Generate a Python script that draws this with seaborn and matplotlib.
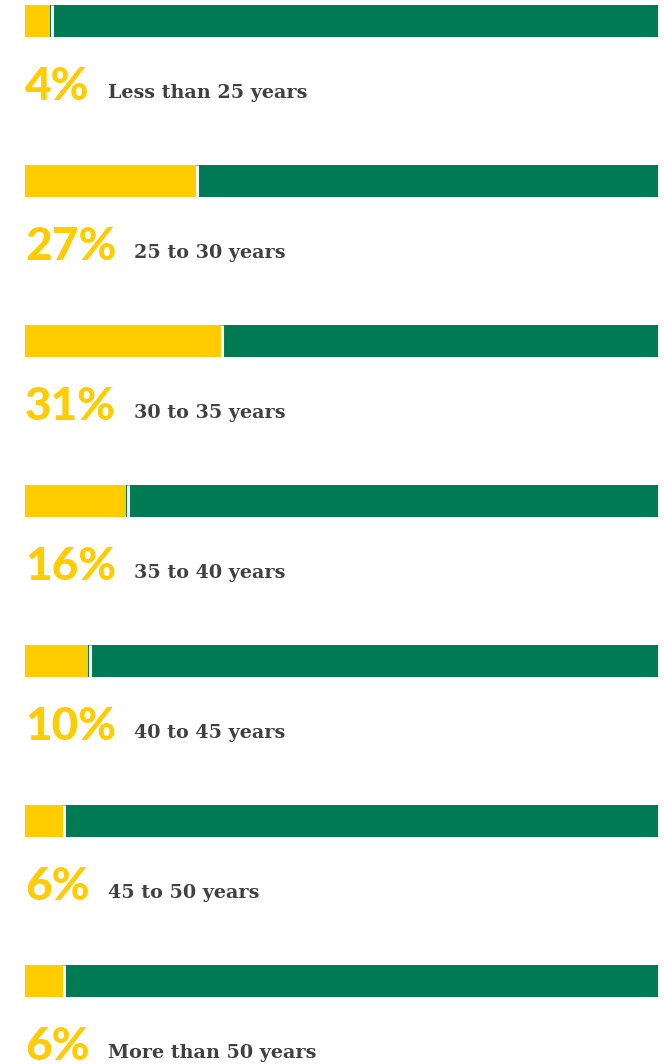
import matplotlib
matplotlib.use("Agg")
import matplotlib.pyplot as plt
import seaborn as sns
import pandas as pd

# Age distribution: share of respondents per age group
groups = ["Less than 25 years", "25 to 30 years", "30 to 35 years", "35 to 40 years",
          "40 to 45 years", "45 to 50 years", "More than 50 years"]
shares = [4, 27, 31, 16, 10, 6, 6]
totals = [100] * len(groups)

YELLOW = "#FFCC00"
GREEN = "#007A53"
LABEL_GREY = "#404040"

df = pd.DataFrame({"group": groups, "share": shares, "total": totals})

sns.set_theme(style="white")

fig = plt.figure(figsize=(6.64, 10.64), dpi=100)
ax = fig.add_axes([25 / 664, 0, 633 / 664, 1])

# full-length track, then the share on top of it
sns.barplot(data=df, x="total", y="group", orient="h", color=GREEN,
            width=0.2, linewidth=0, saturation=1, errorbar=None, ax=ax)
sns.barplot(data=df, x="share", y="group", orient="h", color=YELLOW,
            width=0.2, linewidth=0, saturation=1, errorbar=None, ax=ax)

# thin white break where the share meets the track
for i, v in enumerate(shares):
    ax.vlines(v + 0.2, i - 0.1, i + 0.1, color="white", linewidth=2.2)

ax.set_xlim(0, 100)
ax.set_ylim((1064 - 21) / 160, -21 / 160)
ax.set_axis_off()

for i, (g, v) in enumerate(zip(groups, shares)):
    pct = ax.text(0, i + 79 / 160, f"{v}%", ha="left", va="baseline",
                  fontsize=33, fontweight="black", color=YELLOW,
                  family=["Lato", "DejaVu Sans"])
    ax.annotate(g, xy=(1, i + 77 / 160), xycoords=(pct, "data"),
                xytext=(13, 0), textcoords="offset points",
                ha="left", va="baseline", fontsize=13.8, fontweight="bold",
                color=LABEL_GREY, family=["DejaVu Serif"])

fig.savefig("out.png", dpi=100)
